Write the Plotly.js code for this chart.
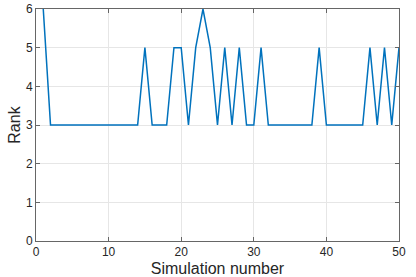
<!DOCTYPE html>
<html>
<head>
<script src="https://cdn.plot.ly/plotly-3.0.1.min.js"></script>
<style>html,body{margin:0;padding:0;background:#fff;}#chart{width:416px;height:277px;}</style>
</head>
<body>
<div id="chart"></div>
<script>
const simulation = [1,2,3,4,5,6,7,8,9,10,11,12,13,14,15,16,17,18,19,20,21,22,23,24,25,26,27,28,29,30,31,32,33,34,35,36,37,38,39,40,41,42,43,44,45,46,47,48,49,50];
const rank = [6,3,3,3,3,3,3,3,3,3,3,3,3,3,5,3,3,3,5,5,3,5,6,5,3,5,3,5,3,3,5,3,3,3,3,3,3,3,5,3,3,3,3,3,3,5,3,5,3,5];
const xTicks = [0,10,20,30,40,50];
const yTicks = [0,1,2,3,4,5,6];

const font = {family: 'Liberation Sans, Arial, sans-serif', color: '#262626'};
Plotly.newPlot('chart', [{
  x: simulation, y: rank, type: 'scatter', mode: 'lines',
  line: {color: '#0072BD', width: 1.5}
}], {
  width: 416, height: 277,
  margin: {l: 36, r: 17, t: 9, b: 36},
  paper_bgcolor: '#fff', plot_bgcolor: '#fff',
  showlegend: false,
  font: font,
  xaxis: {
    range: [0, 50], tickvals: xTicks, ticktext: xTicks.map(String),
    ticks: 'inside', ticklen: 4, tickcolor: '#666', mirror: 'allticks',
    showline: true, linecolor: '#666', linewidth: 1,
    showgrid: true, gridcolor: '#e6e6e6', zeroline: false,
    tickfont: {size: 12, family: font.family, color: '#262626'},
    title: {text: 'Simulation number', font: {size: 16, family: font.family, color: '#262626'}, standoff: 4}
  },
  yaxis: {
    range: [0, 6], tickvals: yTicks, ticktext: yTicks.map(String),
    ticks: 'inside', ticklen: 4, tickcolor: '#666', mirror: 'allticks',
    showline: true, linecolor: '#666', linewidth: 1,
    showgrid: true, gridcolor: '#e6e6e6', zeroline: false,
    tickfont: {size: 12, family: font.family, color: '#262626'},
    title: {text: 'Rank', font: {size: 16, family: font.family, color: '#262626'}, standoff: 1}
  }
}, {staticPlot: true, displayModeBar: false});
</script>
</body>
</html>
